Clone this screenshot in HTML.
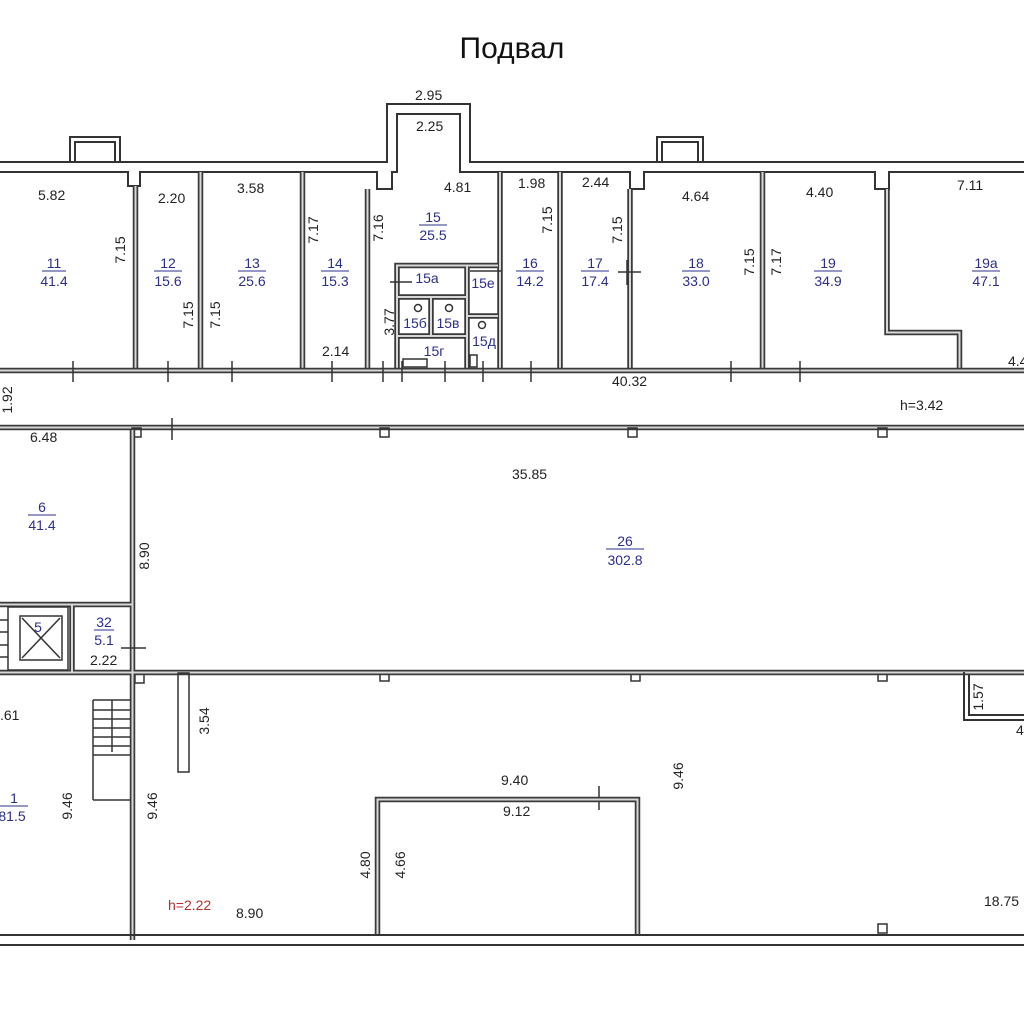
<!DOCTYPE html>
<html><head><meta charset="utf-8"><style>
html,body{margin:0;padding:0;background:#fff}
svg{display:block}
text{font-family:"Liberation Sans",Arial,sans-serif;font-size:14px;fill:#222}
.b{fill:#2b2f8a}
.w{fill:none;stroke:#3a3a3a;stroke-width:5.5}
.wi{fill:none;stroke:#d8d8d8;stroke-width:2}
.l{fill:none;stroke:#333;stroke-width:2}
.t{fill:none;stroke:#333;stroke-width:1.5}
</style></head><body>
<svg width="1024" height="1024" viewBox="0 0 1024 1024" xmlns="http://www.w3.org/2000/svg">
<rect width="1024" height="1024" fill="#fff"/>
<text x="512" y="58" text-anchor="middle" style="font-size:30px;fill:#111">Подвал</text>

<polyline class="l" points="0,162 387,162 387,104 470,104 470,162 1024,162"/>
<polyline class="l" points="0,172 128,172 128,186 140,186 140,172 377,172 377,189 392,189 392,172 397,172 397,114 460,114 460,172 630,172 630,189 644,189 644,172 875,172 875,189 889,189 889,172 1024,172"/>
<polyline class="l" points="70,162 70,137 120,137 120,162"/>
<polyline class="l" points="75,162 75,142 115,142 115,162"/>
<polyline class="l" points="657,162 657,137 703,137 703,162"/>
<polyline class="l" points="662,162 662,142 698,142 698,162"/>

<g>
<path class="w" d="M135.5 186V370 M200.5 172V370 M302.5 172V370 M367.5 189V370 M500 172V370 M560 172V370 M630 189V370 M762.5 172V370 M887 189V332.5H959.5V370"/>
<path class="wi" d="M135.5 186V370 M200.5 172V370 M302.5 172V370 M367.5 189V370 M500 172V370 M560 172V370 M630 189V370 M762.5 172V370 M887 189V332.5H959.5V370"/>
</g>
<g>
<path class="w" d="M397 370V265.5H498 M467 265.5V370 M397 297H467 M467 316H498 M397 336H467 M431 297V336"/>
<path class="wi" d="M397 370V265.5H498 M467 265.5V370 M397 297H467 M467 316H498 M397 336H467 M431 297V336"/>
</g>
<circle cx="418" cy="308" r="3.5" class="t"/><circle cx="449" cy="308" r="3.5" class="t"/><circle cx="482" cy="325" r="3.5" class="t"/>
<rect x="403" y="359" width="24" height="8" class="t"/><rect x="470" y="355" width="7" height="12" class="t"/>

<path class="w" d="M0 370.5H1024 M0 427.5H1024"/>
<path class="wi" d="M0 370.5H1024 M0 427.5H1024"/>
<path class="t" d="M73 361V382 M168 361V382 M232 361V382 M332 361V382 M383 361V382 M402 361V382 M445 361V382 M483 361V382 M531 361V382 M731 361V382 M800 361V382 M172 418V440 M627 260V285 M618 272H641 M470 271H501 M390 282H412 M599 786V810"/>
<rect x="132" y="428" width="9" height="9" class="t" fill="#fff"/><rect x="380" y="428" width="9" height="9" class="t" fill="#fff"/><rect x="628" y="428" width="9" height="9" class="t" fill="#fff"/><rect x="878" y="428" width="9" height="9" class="t" fill="#fff"/>
<rect x="135" y="674" width="9" height="9" class="t" fill="#fff"/><rect x="380" y="672" width="9" height="9" class="t" fill="#fff"/><rect x="631" y="672" width="9" height="9" class="t" fill="#fff"/><rect x="878" y="672" width="9" height="9" class="t" fill="#fff"/><rect x="878" y="924" width="9" height="9" class="t" fill="#fff"/>

<path class="w" d="M132.5 430V940 M0 604.5H132 M0 672.5H1024 M72 604V672"/>
<path class="wi" d="M132.5 430V940 M0 604.5H132 M0 672.5H1024 M72 604V672"/>
<path class="t" d="M121 648H146"/>
<rect x="8" y="607" width="60" height="63" class="t" fill="none"/>
<rect x="20" y="616" width="42" height="44" class="t" fill="none"/>
<path class="t" d="M22 618L60 658 M60 618L22 658 M0 620H8 M0 632H8 M0 645H8 M0 657H8"/>
<polyline class="l" points="964,672 964,720 1024,720"/>
<polyline class="l" points="969,675 969,715 1024,715"/>
<rect x="178" y="673" width="11" height="99" class="t" fill="#fff"/>
<path class="t" d="M93 700H130 M93 800V700 M93 800H130 M93 710H130 M93 719H130 M93 728H130 M93 737H130 M93 746H130 M93 755H130 M112 700V752"/>
<path class="w" d="M377.5 935V799.5H637.5V935"/>
<path class="wi" d="M377.5 935V799.5H637.5V935"/>
<line x1="0" y1="935" x2="1024" y2="935" class="l"/>
<line x1="0" y1="945" x2="1024" y2="945" class="l"/>

<g>
<text x="415" y="100">2.95</text>
<text x="416" y="131">2.25</text>
<text x="38" y="200">5.82</text>
<text x="158" y="203">2.20</text>
<text x="237" y="193">3.58</text>
<text x="444" y="192">4.81</text>
<text x="518" y="188">1.98</text>
<text x="582" y="187">2.44</text>
<text x="682" y="201">4.64</text>
<text x="806" y="197">4.40</text>
<text x="957" y="190">7.11</text>
<text x="322" y="356">2.14</text>
<text x="612" y="386">40.32</text>
<text x="900" y="410">h=3.42</text>
<text x="1008" y="366">4.4</text>
<text x="30" y="442">6.48</text>
<text x="512" y="479">35.85</text>
<text x="90" y="665">2.22</text>
<text x="0" y="720">.61</text>
<text x="501" y="785">9.40</text>
<text x="503" y="816">9.12</text>
<text x="236" y="918">8.90</text>
<text x="168" y="910" style="fill:#b03030">h=2.22</text>
<text x="984" y="906">18.75</text>
<text x="1016" y="735">4</text>
</g>
<g>
<text transform="translate(125,250) rotate(-90)" text-anchor="middle">7.15</text>
<text transform="translate(193,315) rotate(-90)" text-anchor="middle">7.15</text>
<text transform="translate(220,315) rotate(-90)" text-anchor="middle">7.15</text>
<text transform="translate(318,230) rotate(-90)" text-anchor="middle">7.17</text>
<text transform="translate(383,228) rotate(-90)" text-anchor="middle">7.16</text>
<text transform="translate(394,322) rotate(-90)" text-anchor="middle">3.77</text>
<text transform="translate(552,220) rotate(-90)" text-anchor="middle">7.15</text>
<text transform="translate(622,230) rotate(-90)" text-anchor="middle">7.15</text>
<text transform="translate(754,262) rotate(-90)" text-anchor="middle">7.15</text>
<text transform="translate(781,262) rotate(-90)" text-anchor="middle">7.17</text>
<text transform="translate(12,400) rotate(-90)" text-anchor="middle">1.92</text>
<text transform="translate(149,556) rotate(-90)" text-anchor="middle">8.90</text>
<text transform="translate(209,721) rotate(-90)" text-anchor="middle">3.54</text>
<text transform="translate(72,806) rotate(-90)" text-anchor="middle">9.46</text>
<text transform="translate(157,806) rotate(-90)" text-anchor="middle">9.46</text>
<text transform="translate(370,865) rotate(-90)" text-anchor="middle">4.80</text>
<text transform="translate(405,865) rotate(-90)" text-anchor="middle">4.66</text>
<text transform="translate(683,776) rotate(-90)" text-anchor="middle">9.46</text>
<text transform="translate(983,697) rotate(-90)" text-anchor="middle">1.57</text>
</g>

<g text-anchor="middle" style="font-size:14px">
<text x="54" y="268" class="b">11</text><line x1="42" y1="271" x2="66" y2="271" stroke="#2b2f8a"/><text x="54" y="286" class="b">41.4</text>
<text x="168" y="268" class="b">12</text><line x1="154" y1="271" x2="182" y2="271" stroke="#2b2f8a"/><text x="168" y="286" class="b">15.6</text>
<text x="252" y="268" class="b">13</text><line x1="238" y1="271" x2="266" y2="271" stroke="#2b2f8a"/><text x="252" y="286" class="b">25.6</text>
<text x="335" y="268" class="b">14</text><line x1="321" y1="271" x2="349" y2="271" stroke="#2b2f8a"/><text x="335" y="286" class="b">15.3</text>
<text x="433" y="222" class="b">15</text><line x1="419" y1="225" x2="447" y2="225" stroke="#2b2f8a"/><text x="433" y="240" class="b">25.5</text>
<text x="530" y="268" class="b">16</text><line x1="516" y1="271" x2="544" y2="271" stroke="#2b2f8a"/><text x="530" y="286" class="b">14.2</text>
<text x="595" y="268" class="b">17</text><line x1="581" y1="271" x2="609" y2="271" stroke="#2b2f8a"/><text x="595" y="286" class="b">17.4</text>
<text x="696" y="268" class="b">18</text><line x1="682" y1="271" x2="710" y2="271" stroke="#2b2f8a"/><text x="696" y="286" class="b">33.0</text>
<text x="828" y="268" class="b">19</text><line x1="814" y1="271" x2="842" y2="271" stroke="#2b2f8a"/><text x="828" y="286" class="b">34.9</text>
<text x="986" y="268" class="b">19a</text><line x1="972" y1="271" x2="1000" y2="271" stroke="#2b2f8a"/><text x="986" y="286" class="b">47.1</text>
<text x="427" y="283" class="b">15a</text>
<text x="483" y="288" class="b">15е</text>
<text x="415" y="328" class="b">15б</text>
<text x="448" y="328" class="b">15в</text>
<text x="434" y="356" class="b">15г</text>
<text x="484" y="346" class="b">15д</text>
<text x="42" y="512" class="b">6</text><line x1="28" y1="515" x2="56" y2="515" stroke="#2b2f8a"/><text x="42" y="530" class="b">41.4</text>
<text x="625" y="546" class="b">26</text><line x1="606" y1="549" x2="644" y2="549" stroke="#2b2f8a"/><text x="625" y="565" class="b">302.8</text>
<text x="104" y="627" class="b">32</text><line x1="94" y1="630" x2="114" y2="630" stroke="#2b2f8a"/><text x="104" y="645" class="b">5.1</text>
<text x="38" y="632" class="b">5</text>
<text x="14" y="803" class="b">1</text><line x1="0" y1="806" x2="28" y2="806" stroke="#2b2f8a"/><text x="12" y="821" class="b">81.5</text>
</g>
</svg>
</body></html>
